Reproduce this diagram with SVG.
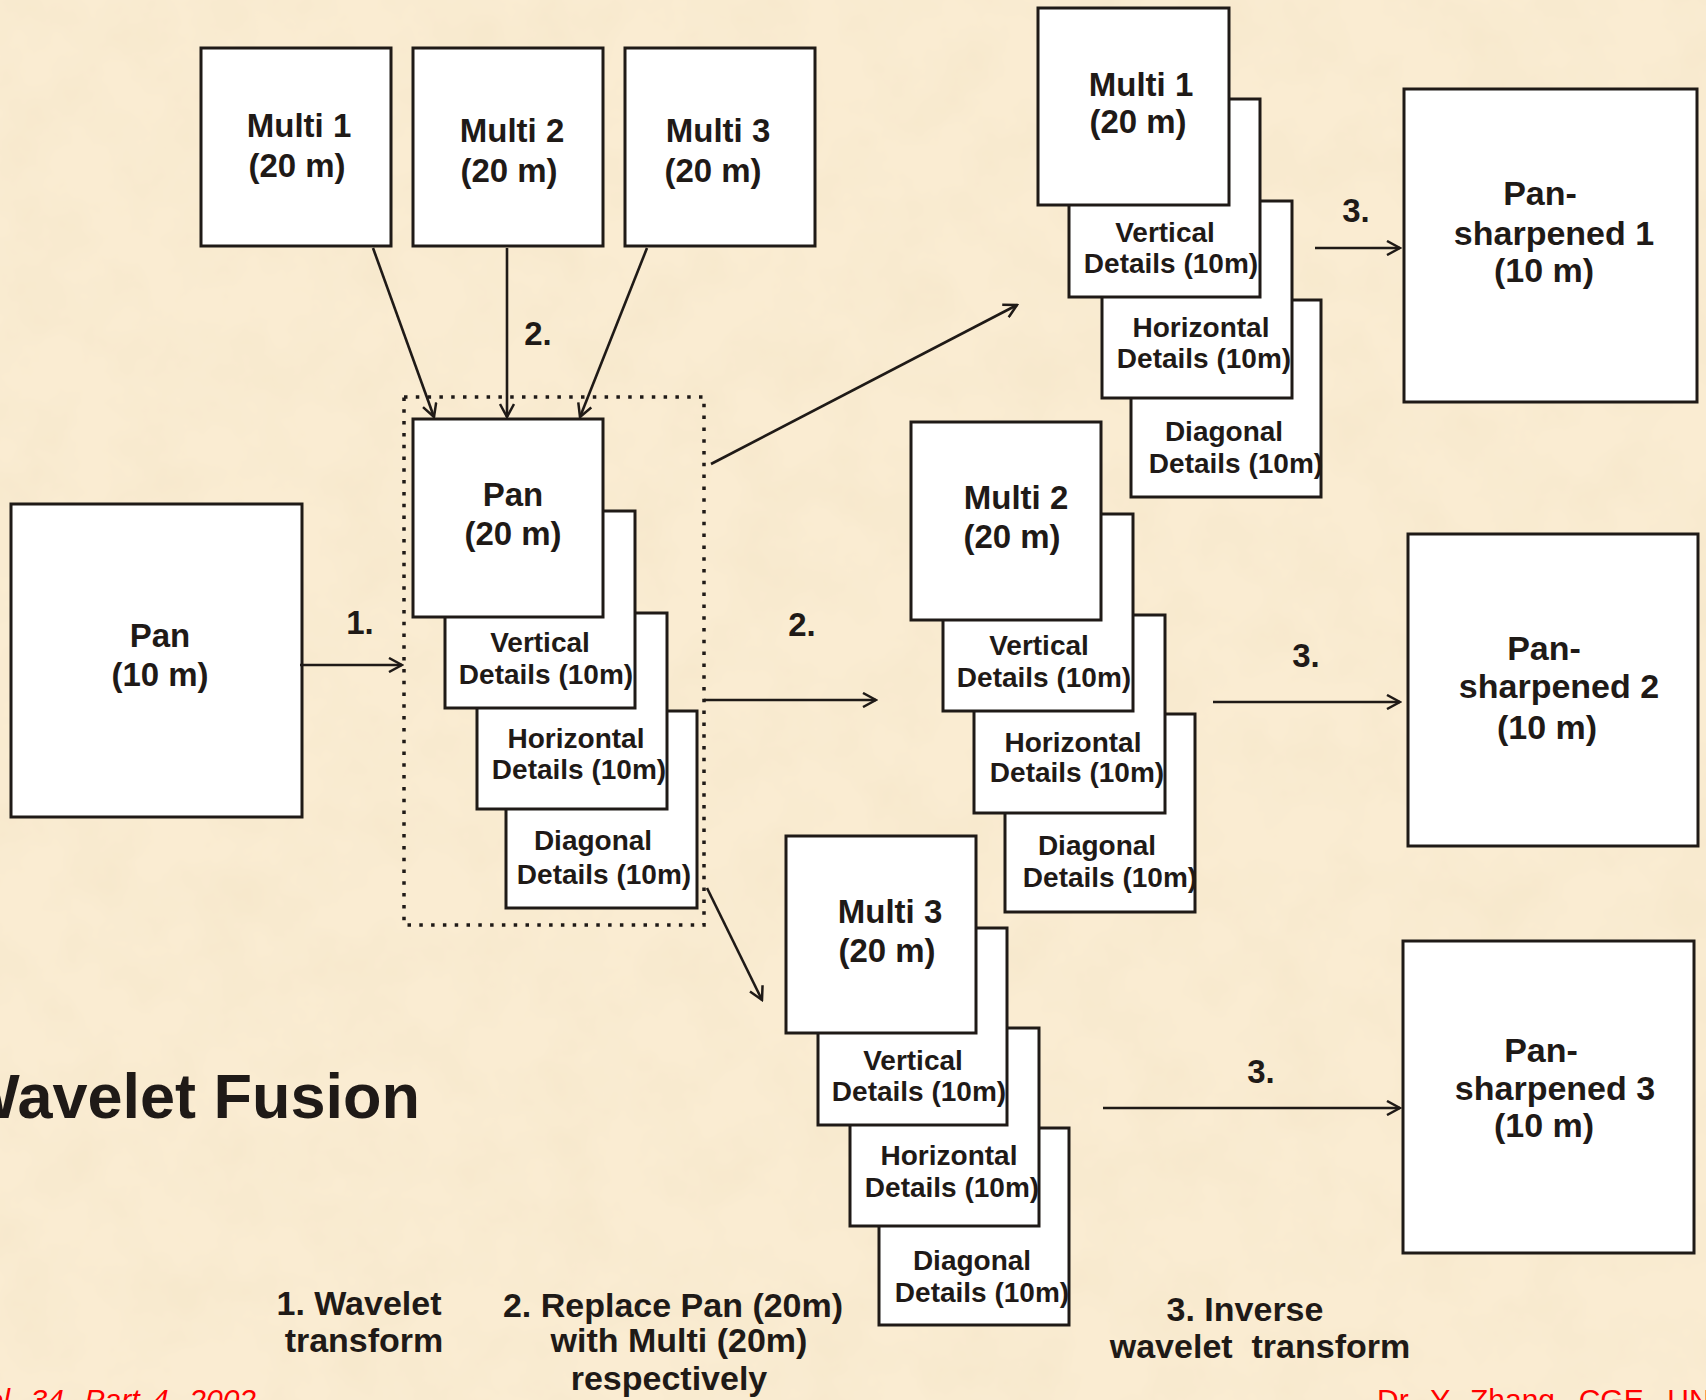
<svg xmlns="http://www.w3.org/2000/svg" width="1706" height="1400" viewBox="0 0 1706 1400">
<style>
.bx{fill:#ffffff;stroke:#1f1a17;stroke-width:3}
.t{font-family:"Liberation Sans",Arial,sans-serif;font-weight:bold;fill:#1f1a17;font-size:33px;text-anchor:middle}
.d{font-size:28px}
.p{font-size:34px}
.ln{fill:none;stroke:#1f1a17;stroke-width:2.6}
.red{font-family:"Liberation Sans",Arial,sans-serif;fill:#ff0000;font-size:30px}
</style>
<defs>
<marker id="ah" viewBox="0 0 16 16" refX="14" refY="8" markerWidth="16" markerHeight="16" markerUnits="userSpaceOnUse" orient="auto">
<path d="M1,1 L14,8 L1,15" fill="none" stroke="#1f1a17" stroke-width="2.5"/>
</marker>
<filter id="paper" x="0" y="0" width="100%" height="100%">
<feTurbulence type="fractalNoise" baseFrequency="0.015" numOctaves="4" seed="7"/>
<feColorMatrix type="matrix" values="0 0 0 0 0.86  0 0 0 0 0.74  0 0 0 0 0.52  0.55 0 0 0 -0.2"/>
</filter>
</defs>
<rect x="0" y="0" width="1706" height="1400" fill="#faecd2"/>
<rect x="0" y="0" width="1706" height="1400" filter="url(#paper)"/>

<!-- top Multi sources -->
<g id="src-multi1"><rect class="bx" x="201" y="48" width="190" height="198"/><text class="t" x="299" y="137">Multi 1</text><text class="t" x="297" y="177">(20 m)</text></g>
<g id="src-multi2"><rect class="bx" x="413" y="48" width="190" height="198"/><text class="t" x="512" y="142">Multi 2</text><text class="t" x="509" y="182">(20 m)</text></g>
<g id="src-multi3"><rect class="bx" x="625" y="48" width="190" height="198"/><text class="t" x="718" y="142">Multi 3</text><text class="t" x="713" y="182">(20 m)</text></g>

<!-- Pan 10m -->
<g id="pan10"><rect class="bx" x="11" y="504" width="291" height="313"/><text class="t" x="160" y="647">Pan</text><text class="t" x="160" y="686">(10 m)</text></g>

<!-- Pan 20m stack -->
<g id="pan-diagonal"><rect class="bx" x="506" y="711" width="191" height="197"/><text class="t d" x="593" y="850">Diagonal</text><text class="t d" x="604" y="884">Details (10m)</text></g>
<g id="pan-horizontal"><rect class="bx" x="477" y="613" width="190" height="196"/><text class="t d" x="576" y="748">Horizontal</text><text class="t d" x="579" y="779">Details (10m)</text></g>
<g id="pan-vertical"><rect class="bx" x="445" y="511" width="190" height="197"/><text class="t d" x="540" y="652">Vertical</text><text class="t d" x="546" y="684">Details (10m)</text></g>
<g id="pan20"><rect class="bx" x="413" y="419" width="190" height="198"/><text class="t" x="513" y="506">Pan</text><text class="t" x="513" y="545">(20 m)</text></g>
<g id="group-box"><rect x="404" y="397" width="300" height="528" fill="none" stroke="#1f1a17" stroke-width="3.5" stroke-dasharray="3.5 8.3"/></g>

<!-- Multi 1 stack -->
<g id="m1-diagonal"><rect class="bx" x="1131" y="300" width="190" height="197"/><text class="t d" x="1224" y="441">Diagonal</text><text class="t d" x="1236" y="473">Details (10m)</text></g>
<g id="m1-horizontal"><rect class="bx" x="1102" y="201" width="190" height="197"/><text class="t d" x="1201" y="337">Horizontal</text><text class="t d" x="1204" y="368">Details (10m)</text></g>
<g id="m1-vertical"><rect class="bx" x="1069" y="99" width="191" height="198"/><text class="t d" x="1165" y="242">Vertical</text><text class="t d" x="1171" y="273">Details (10m)</text></g>
<g id="m1"><rect class="bx" x="1038" y="8" width="191" height="197"/><text class="t" x="1141" y="96">Multi 1</text><text class="t" x="1138" y="133">(20 m)</text></g>

<!-- Multi 2 stack -->
<g id="m2-diagonal"><rect class="bx" x="1005" y="714" width="190" height="198"/><text class="t d" x="1097" y="855">Diagonal</text><text class="t d" x="1110" y="887">Details (10m)</text></g>
<g id="m2-horizontal"><rect class="bx" x="974" y="615" width="191" height="198"/><text class="t d" x="1073" y="752">Horizontal</text><text class="t d" x="1077" y="782">Details (10m)</text></g>
<g id="m2-vertical"><rect class="bx" x="943" y="514" width="190" height="197"/><text class="t d" x="1039" y="655">Vertical</text><text class="t d" x="1044" y="687">Details (10m)</text></g>
<g id="m2"><rect class="bx" x="911" y="422" width="190" height="198"/><text class="t" x="1016" y="509">Multi 2</text><text class="t" x="1012" y="548">(20 m)</text></g>

<!-- Multi 3 stack -->
<g id="m3-diagonal"><rect class="bx" x="879" y="1128" width="190" height="197"/><text class="t d" x="972" y="1270">Diagonal</text><text class="t d" x="982" y="1302">Details (10m)</text></g>
<g id="m3-horizontal"><rect class="bx" x="850" y="1028" width="189" height="198"/><text class="t d" x="949" y="1165">Horizontal</text><text class="t d" x="952" y="1197">Details (10m)</text></g>
<g id="m3-vertical"><rect class="bx" x="818" y="928" width="189" height="197"/><text class="t d" x="913" y="1070">Vertical</text><text class="t d" x="919" y="1101">Details (10m)</text></g>
<g id="m3"><rect class="bx" x="786" y="836" width="190" height="197"/><text class="t" x="890" y="923">Multi 3</text><text class="t" x="887" y="962">(20 m)</text></g>

<!-- Pan-sharpened outputs -->
<g id="ps1"><rect class="bx" x="1404" y="89" width="293" height="313"/><text class="t p" x="1540" y="205">Pan-</text><text class="t p" x="1554" y="245">sharpened 1</text><text class="t p" x="1544" y="282">(10 m)</text></g>
<g id="ps2"><rect class="bx" x="1408" y="534" width="290" height="312"/><text class="t p" x="1544" y="660">Pan-</text><text class="t p" x="1559" y="698">sharpened 2</text><text class="t p" x="1547" y="739">(10 m)</text></g>
<g id="ps3"><rect class="bx" x="1403" y="941" width="291" height="312"/><text class="t p" x="1541" y="1062">Pan-</text><text class="t p" x="1555" y="1100">sharpened 3</text><text class="t p" x="1544" y="1137">(10 m)</text></g>

<!-- connectors -->
<g id="connectors">
<line class="ln" x1="373" y1="248" x2="434" y2="417" marker-end="url(#ah)"/>
<line class="ln" x1="507" y1="248" x2="507" y2="417" marker-end="url(#ah)"/>
<line class="ln" x1="647" y1="248" x2="580" y2="417" marker-end="url(#ah)"/>
<line class="ln" x1="300" y1="665" x2="402" y2="665" marker-end="url(#ah)"/>
<line class="ln" x1="711" y1="464" x2="1017" y2="305" marker-end="url(#ah)"/>
<line class="ln" x1="704" y1="700" x2="876" y2="700" marker-end="url(#ah)"/>
<line class="ln" x1="707" y1="888" x2="762" y2="1000" marker-end="url(#ah)"/>
<line class="ln" x1="1315" y1="248" x2="1400" y2="248" marker-end="url(#ah)"/>
<line class="ln" x1="1213" y1="702" x2="1400" y2="702" marker-end="url(#ah)"/>
<line class="ln" x1="1103" y1="1108" x2="1400" y2="1108" marker-end="url(#ah)"/>
</g>

<!-- step labels -->
<g id="labels">
<text class="t" x="538" y="345">2.</text>
<text class="t" x="360" y="634">1.</text>
<text class="t" x="802" y="636">2.</text>
<text class="t" x="1356" y="222">3.</text>
<text class="t" x="1306" y="667">3.</text>
<text class="t" x="1261" y="1083">3.</text>
</g>

<!-- title and captions -->
<text class="t" style="font-size:63px;text-anchor:end" x="420" y="1118">Wavelet Fusion</text>
<text class="t p" x="359" y="1315">1. Wavelet</text>
<text class="t p" x="364" y="1352">transform</text>
<text class="t p" x="673" y="1317">2. Replace Pan (20m)</text>
<text class="t p" x="679" y="1352">with Multi (20m)</text>
<text class="t p" x="669" y="1390">respectively</text>
<text class="t p" x="1245" y="1321">3. Inverse</text>
<text class="t p" x="1260" y="1358" xml:space="preserve" style="white-space:pre">wavelet  transform</text>
<text class="red" style="font-style:italic;text-anchor:end;word-spacing:4px" x="256" y="1410">Vol. 34, Part 4, 2002</text>
<text class="red" style="word-spacing:7px" x="1377" y="1410">Dr. Y. Zhang, CGE, UNB</text>
</svg>
